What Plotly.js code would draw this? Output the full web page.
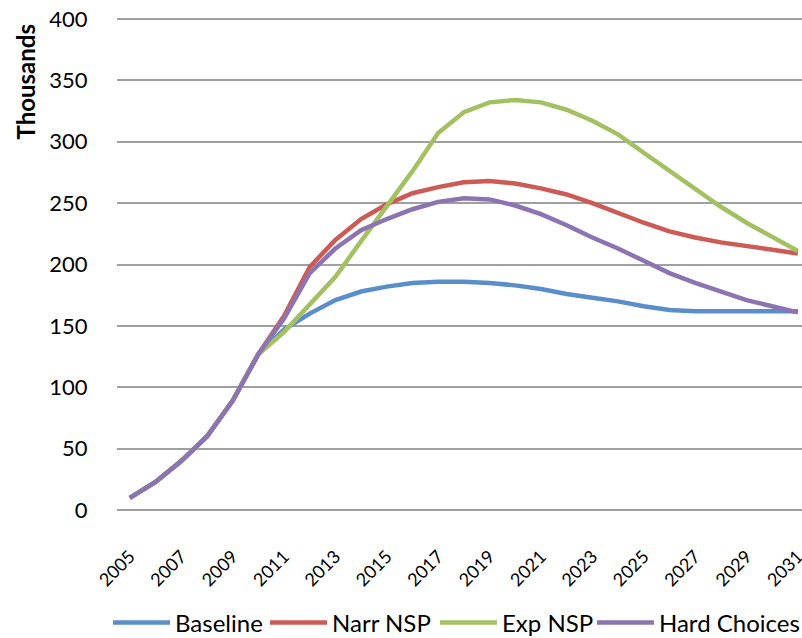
<!DOCTYPE html>
<html>
<head>
<meta charset="utf-8">
<script src="https://cdn.plot.ly/plotly-3.0.1.min.js"></script>
<style>
  html, body { margin: 0; padding: 0; background: #ffffff; }
  #chart { width: 802px; height: 638px; }
</style>
</head>
<body>
<div id="chart"></div>
<script>
// Years on the category axis
const years = [2005, 2006, 2007, 2008, 2009, 2010, 2011, 2012, 2013, 2014, 2015, 2016, 2017, 2018,
               2019, 2020, 2021, 2022, 2023, 2024, 2025, 2026, 2027, 2028, 2029, 2030, 2031];

// Labelled years (every other year)
const tickYears = [2005, 2007, 2009, 2011, 2013, 2015, 2017, 2019, 2021, 2023, 2025, 2027, 2029, 2031];

// Scenario series, in thousands
const baseline = [10, 23, 40, 60, 89, 127, 147, 160, 171, 178, 182, 185, 186, 186,
                  185, 183, 180, 176, 173, 170, 166, 163, 162, 162, 162, 162, 162];
const narrNSP = [10, 23, 40, 60, 89, 127, 158, 198, 220, 237, 249, 258, 263, 267,
                 268, 266, 262, 257, 250, 242, 234, 227, 222, 218, 215, 212, 209];
const expNSP = [10, 23, 40, 60, 89, 127, 145, 167, 190, 219, 248, 276, 307, 324,
                332, 334, 332, 326, 317, 306, 291, 276, 261, 247, 234, 222, 211];
const hardChoices = [10, 23, 40, 60, 89, 127, 156, 193, 213, 228, 237, 245, 251, 254,
                     253, 248, 241, 232, 222, 213, 203, 193, 185, 178, 171, 166, 161];

const seriesNames = ['Baseline', 'Narr NSP', 'Exp NSP', 'Hard Choices'];
const seriesValues = [baseline, narrNSP, expNSP, hardChoices];
const seriesColors = ['#5A8ECB', '#CC5B55', '#A3C163', '#8C74B2'];

// Each series gets its own legend box so the row spacing can be set per entry
const legendIds = ['legend', 'legend2', 'legend3', 'legend4'];
const legendX = [-0.0131, 0.2161, 0.4642, 0.6934];

const FONT = 'Lato, "Open Sans", "DejaVu Sans", sans-serif';

const traces = seriesValues.map((vals, i) => ({
  type: 'scatter',
  mode: 'lines',
  name: seriesNames[i],
  legend: legendIds[i],
  x: years,
  y: vals,
  line: { color: seriesColors[i], width: 4.5, shape: 'linear' },
  hoverinfo: 'x+y+name'
}));

function legendBox(x) {
  return {
    orientation: 'h',
    x: x,
    xanchor: 'left',
    y: -0.224,
    yanchor: 'middle',
    font: { family: FONT, size: 24, color: '#000000' },
    itemwidth: 57,
    bgcolor: 'rgba(0,0,0,0)'
  };
}

const layout = {
  width: 802,
  height: 638,
  paper_bgcolor: '#ffffff',
  plot_bgcolor: '#ffffff',
  margin: { l: 117, r: 0, t: 17, b: 126, pad: 0, autoexpand: false },
  font: { family: FONT, size: 19, color: '#000000' },
  showlegend: true,
  xaxis: {
    range: [2004.5, 2031.16],
    tickmode: 'array',
    tickvals: tickYears,
    ticktext: tickYears.map(String),
    tickangle: -45,
    ticks: 'outside',
    ticklen: 26,
    tickcolor: 'rgba(0,0,0,0)',
    tickfont: { family: FONT, size: 18, color: '#000000' },
    ticklabeloverflow: 'allow',
    showgrid: false,
    zeroline: false,
    showline: false,
    fixedrange: true
  },
  yaxis: {
    range: [-1.5, 401.5],
    tick0: 0,
    dtick: 50,
    ticks: 'outside',
    ticklen: 24,
    tickcolor: 'rgba(0,0,0,0)',
    tickfont: { family: FONT, size: 22, color: '#000000' },
    showgrid: true,
    gridcolor: '#A0A0A0',
    gridwidth: 2,
    zeroline: false,
    showline: false,
    fixedrange: true
  },
  annotations: [{
    text: '<b>Thousands</b>',
    xref: 'paper', yref: 'paper',
    x: -0.134, y: 0.868,
    xanchor: 'center', yanchor: 'middle',
    textangle: -90,
    showarrow: false,
    font: { family: FONT, size: 24, color: '#000000' }
  }]
};

legendIds.forEach((id, i) => { layout[id] = legendBox(legendX[i]); });

Plotly.newPlot('chart', traces, layout, { displayModeBar: false, staticPlot: true });
</script>
</body>
</html>
